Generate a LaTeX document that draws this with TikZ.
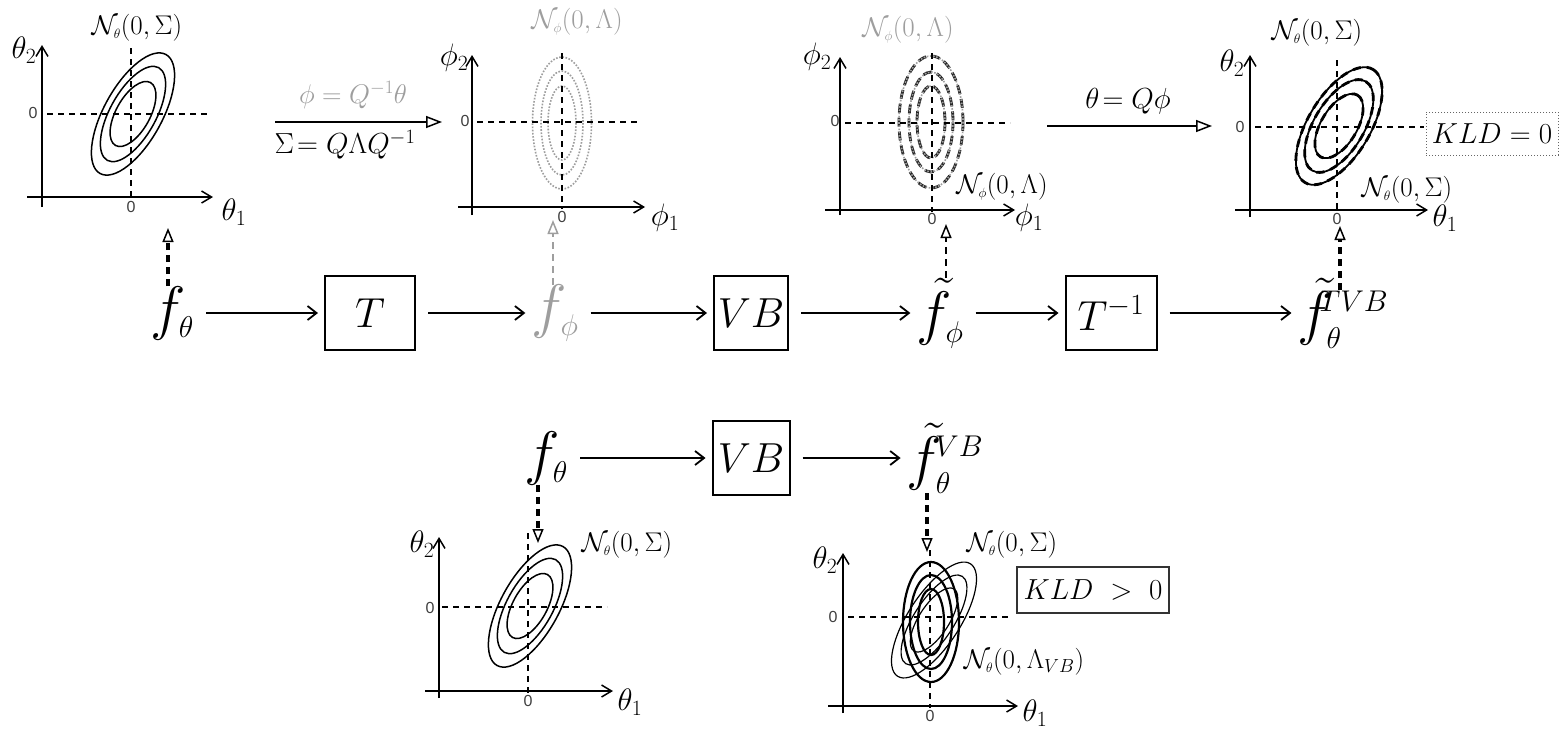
\RequirePackage{fix-cm}
\documentclass[tikz,border=0pt]{standalone}
\usepackage{fontspec}
\setsansfont{Liberation Sans}
\usetikzlibrary{arrows.meta}
\definecolor{lg}{gray}{0.62}
\begin{document}
\begin{tikzpicture}[x=1pt,y=-1pt,
  axis/.style={line width=1.5pt,-{Straight Barb[length=10pt,width=12pt]}},
  dsh/.style={line width=1.2pt,dash pattern=on 6pt off 5pt},
  lbl/.style={inner sep=0pt,font=\fontsize{27}{30}\selectfont},
  axlbl/.style={inner sep=0pt,font=\fontsize{31}{34}\selectfont},
  tick/.style={inner sep=0pt,font=\sffamily\fontsize{16}{18}\selectfont,text=black!75},
  big/.style={inner sep=0pt,font=\fontsize{60}{64}\selectfont},
  boxnode/.style={draw,line width=2pt,minimum height=74pt,inner sep=0pt,font=\fontsize{42}{46}\selectfont},
  arr/.style={line width=1.8pt,-{Straight Barb[length=9pt,width=14pt]},shorten <=12pt,shorten >=6pt},
  trarrow/.style={line width=1.5pt,-{Triangle[open,length=16pt,width=12pt,line width=1.5pt]}},
  uparr/.style={line width=3.2pt,dash pattern=on 7pt off 5pt,-{Triangle[open,length=14pt,width=11pt,line width=1.5pt]}},
  ell/.style={line width=1.5pt},
  dotell/.style={lg,line width=1.6pt,dash pattern=on 1.6pt off 1.6pt},
  thkdash/.style={black!85,line width=2.8pt,dash pattern=on 9pt off 5pt},
  kbox/.style={inner sep=0pt,font=\fontsize{29}{32}\selectfont}
]
\fill[white] (0,0) rectangle (1561,731);
\useasboundingbox (0,0) rectangle (1561,731);

% ---------- plot 1 ----------
\foreach \a/\b in {68/29,53/23,36/17}
  \draw[ell,rotate around={61:(133,114)}] (133,114) ellipse [x radius=\a, y radius=\b];
\draw[axis] (42,207) -- (42,45);
\draw[axis] (27,197) -- (213,197);
\draw[dsh] (47,114) -- (208,114);
\draw[dsh] (131,48) -- (131,199);
\node[axlbl] (p1y) at (24,50) {$\theta_2$};
\node[axlbl] (p1x) at (234,212) {$\theta_1$};
\node[tick] (p1z) at (33,113) {0};
\node[tick] (p1zb) at (131,207) {0};
\node[lbl] (p1N) at (137,28) {$\mathcal{N}_{\scriptscriptstyle\theta}(0,\Sigma)$};

% ---------- plot 2 ----------
\draw[dotell] (562,123) ellipse [x radius=29.5, y radius=66];
\draw[dotell] (562,123) ellipse [x radius=21, y radius=52];
\draw[dotell] (562,123) ellipse [x radius=14, y radius=37];
\draw[axis] (472,215) -- (472,55);
\draw[axis] (458,207) -- (645,207);
\draw[dsh] (477,122) -- (640,122);
\draw[dsh] (562,53) -- (562,209);
\node[axlbl] (p2y) at (454,58) {$\phi_2$};
\node[axlbl] (p2x) at (665,218) {$\phi_1$};
\node[tick] (p2z) at (465,121) {0};
\node[tick] (p2zb) at (562,217) {0};
\node[lbl,text=lg] (p2N) at (577,22) {$\mathcal{N}_{\scriptscriptstyle\phi}(0,\Lambda)$};

% ---------- plot 3 ----------
\foreach \a/\b in {32/66,22/50,14/36}{
  \draw[thkdash] (931,122) ellipse [x radius=\a, y radius=\b];
  \draw[dotell] (931,122) ellipse [x radius=\a, y radius=\b];
}
\draw[axis] (840,215) -- (840,57);
\draw[axis] (825,210) -- (1015,210);
\draw[dsh] (845,123) -- (1010,123);
\draw[dsh] (932,53) -- (932,212);
\node[axlbl] (p3y) at (817,57) {$\phi_2$};
\node[axlbl] (p3x) at (1029,218) {$\phi_1$};
\node[tick] (p3z) at (835,121) {0};
\node[tick] (p3zb) at (932,219) {0};
\node[lbl,text=lg] (p3N) at (908,30) {$\mathcal{N}_{\scriptscriptstyle\phi}(0,\Lambda)$};
\node[lbl] (p3Nb) at (1002,187) {$\mathcal{N}_{\scriptscriptstyle\phi}(0,\Lambda)$};

% ---------- plot 4 ----------
\foreach \a/\b in {66/31,52/25,36/18}{
  \draw[line width=1.8pt,rotate around={59:(1339,126)}] (1339,126) ellipse [x radius=\a, y radius=\b];
  \draw[line width=2.8pt,dash pattern=on 8pt off 6pt,rotate around={59:(1339,126)}] (1339,126) ellipse [x radius=\a, y radius=\b];
}
\draw[axis] (1250,217) -- (1250,55);
\draw[axis] (1235,210) -- (1428,210);
\draw[dsh] (1255,127) -- (1424,127);
\draw[dsh] (1337,60) -- (1337,212);
\node[axlbl] (p4y) at (1232,63) {$\theta_2$};
\node[axlbl] (p4x) at (1445,218) {$\theta_1$};
\node[tick] (p4z) at (1240,127) {0};
\node[tick] (p4zb) at (1337,219) {0};
\node[lbl] (p4N) at (1317,33) {$\mathcal{N}_{\scriptscriptstyle\theta}(0,\Sigma)$};
\node[lbl] (p4Nb) at (1407,190) {$\mathcal{N}_{\scriptscriptstyle\theta}(0,\Sigma)$};
\node[kbox,draw=black!60,line width=1pt,dotted,minimum width=132pt,minimum height=43pt] (kld0) at (1492,133.5) {$KLD = 0$};

% ---------- transform arrows ----------
\coordinate (a1s) at (275,122);
\coordinate (a1e) at (442,122);
\draw[trarrow] (a1s) -- (a1e);
\node[lbl,text=lg] (a1t) at (353,95) {$\phi = Q^{-1}\theta$};
\node[kbox] (a1b) at (345,145) {$\Sigma\!= Q\Lambda Q^{-1}$};
\coordinate (a2s) at (1047,126);
\coordinate (a2e) at (1212,126);
\draw[trarrow] (a2s) -- (a2e);
\node[kbox] (a2t) at (1128,101) {$\theta\!= Q\phi$};

% ---------- middle row ----------
\node[big] (fth) at (172,313) {$f_{\scriptscriptstyle\theta}$};
\node[boxnode,minimum width=90pt] (T) at (370,313) {$T$};
\node[big,text=lg] (fph) at (555,313) {$f_{\scriptscriptstyle\phi}$};
\node[boxnode,minimum width=74pt] (VB) at (751,313) {$VB$};
\node[big] (ftph) at (940,313) {$\tilde{f}_{\scriptscriptstyle\phi}$};
\node[boxnode,minimum width=91pt] (Tinv) at (1111,313) {$T^{-1}$};
\node[big] (ftth) at (1343,313) {$\tilde{f}_{\scriptscriptstyle\theta}^{\!\!\scriptscriptstyle TVB}$};
\draw[arr] (fth) -- (T);
\draw[arr] (T) -- (fph);
\draw[arr] (fph) -- (VB);
\draw[arr] (VB) -- (ftph);
\draw[arr] (ftph) -- (Tinv);
\draw[arr] (Tinv) -- (ftth);

\coordinate (u1) at (168,228);
\coordinate (u2) at (553,220);
\coordinate (u3) at (946,224);
\coordinate (u4) at (1340,226);
\draw[uparr] (fth.north -| u1) -- (u1);
\draw[uparr,lg,line width=2.2pt] (fph.north -| u2) -- (u2);
\draw[uparr,line width=2pt] (ftph.north -| u3) -- (u3);
\draw[uparr] ([yshift=-12pt]ftth.north -| u4) -- (u4);

% ---------- bottom row ----------
\node[big] (bfth) at (546,458) {$f_{\scriptscriptstyle\theta}$};
\node[boxnode,minimum width=77pt] (bVB) at (751,458) {$VB$};
\node[big] (bftth) at (945,458) {$\tilde{f}_{\scriptscriptstyle\theta}^{\!\scriptscriptstyle VB}$};
\draw[arr] (bfth) -- (bVB);
\draw[arr] (bVB) -- (bftth);
\coordinate (d1) at (538,543);
\coordinate (d2) at (927,552);
\draw[uparr] (bfth.south -| d1) -- (d1);
\draw[uparr] (bftth.south -| d2) -- (d2);

% ---------- bottom plot 1 ----------
\foreach \a/\b in {68/29,53/23,36/17}
  \draw[ell,rotate around={61:(530,606)}] (530,606) ellipse [x radius=\a, y radius=\b];
\draw[axis] (439,698) -- (439,537);
\draw[axis] (425,691) -- (613,691);
\draw[dsh] (442,607) -- (607,607);
\draw[dsh] (528,533) -- (528,693);
\node[axlbl] (b1y) at (422,544) {$\theta_2$};
\node[axlbl] (b1x) at (630,702) {$\theta_1$};
\node[tick] (b1z) at (430,608) {0};
\node[tick] (b1zb) at (528,701) {0};
\node[lbl] (b1N) at (627,545) {$\mathcal{N}_{\scriptscriptstyle\theta}(0,\Sigma)$};

% ---------- bottom plot 2 ----------
\foreach \a/\b in {67/26,52/20,37/15}
  \draw[ell,line width=1.2pt,rotate around={57:(934,620)}] (934,620) ellipse [x radius=\a, y radius=\b];
\draw[line width=2.2pt] (931,622) ellipse [x radius=28, y radius=60];
\draw[line width=2.2pt] (931,622) ellipse [x radius=21, y radius=47];
\draw[line width=2.2pt] (931,622) ellipse [x radius=13, y radius=33];
\draw[axis] (843,713) -- (843,553);
\draw[axis] (828,706) -- (1018,706);
\draw[dsh] (848,617) -- (1008,617);
\draw[dsh] (930,550) -- (930,708);
\node[axlbl] (b2y) at (825,560) {$\theta_2$};
\node[axlbl] (b2x) at (1035,713) {$\theta_1$};
\node[tick] (b2z) at (833,617) {0};
\node[tick] (b2zb) at (930,716) {0};
\node[lbl] (b2N) at (1012,545) {$\mathcal{N}_{\scriptscriptstyle\theta}(0,\Sigma)$};
\node[lbl] (b2L) at (1024,662) {$\mathcal{N}_{\scriptscriptstyle\theta}(0,\Lambda_{VB})$};
\node[kbox,draw=black!80,line width=1.3pt,minimum width=152pt,minimum height=46pt] (kld1) at (1093,590) {$KLD\ >\ 0$};
\end{tikzpicture}
\end{document}
